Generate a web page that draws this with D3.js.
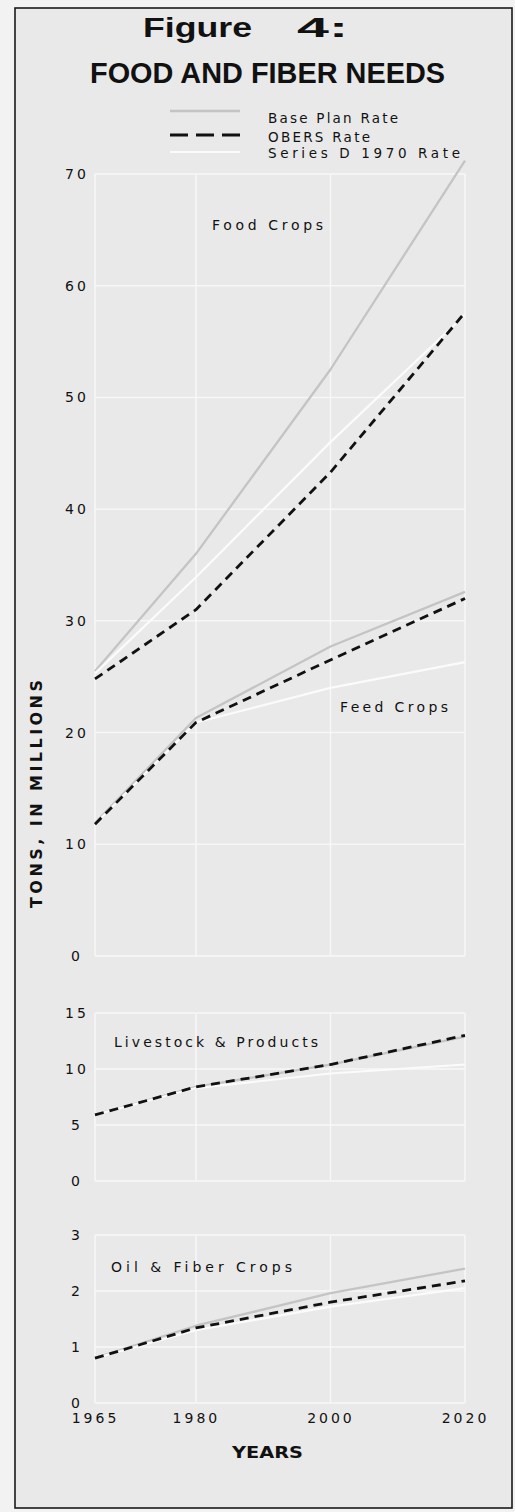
<!DOCTYPE html>
<html>
<head>
<meta charset="utf-8">
<script src="https://cdn.jsdelivr.net/npm/d3@7"></script>
<style>
  html, body { margin: 0; padding: 0; background: #f2f2f2; }
  svg { display: block; }
</style>
</head>
<body>
<svg id="chart" width="515" height="1512"></svg>
<script>
// ---------- data ----------
const years = [1965, 1980, 2000, 2020];
const xTickLabels = ["1965", "1980", "2000", "2020"];

const seriesNames = ["Base Plan Rate", "OBERS Rate", "Series D 1970 Rate"];

const foodBase    = [25.5, 36.0, 52.5, 71.2];
const foodObers   = [24.8, 31.0, 43.3, 57.6];
const foodSeriesD = [25.3, 33.9, 46.0, 57.4];

const feedBase    = [11.9, 21.3, 27.7, 32.6];
const feedObers   = [11.8, 20.9, 26.5, 32.0];
const feedSeriesD = [11.8, 20.9, 24.0, 26.3];

const livestockBase    = [5.9, 8.4, 10.4, 12.9];
const livestockObers   = [5.9, 8.4, 10.4, 13.0];
const livestockSeriesD = [5.9, 8.3, 9.6, 10.4];

const oilBase    = [0.8, 1.38, 1.96, 2.4];
const oilObers   = [0.8, 1.34, 1.80, 2.18];
const oilSeriesD = [0.8, 1.30, 1.72, 2.05];

const panel1Ticks = [0, 10, 20, 30, 40, 50, 60, 70];
const panel2Ticks = [0, 5, 10, 15];
const panel3Ticks = [0, 1, 2, 3];

// ---------- layout ----------
const svg = d3.select("#chart");
const BG = "#e9e9e9", GRID = "#f7f7f7";
const labelFont = "'DejaVu Sans', 'Liberation Sans', sans-serif";
const titleFont = "'Liberation Sans', Arial, sans-serif";

// series styles keyed by series name
const styleOf = {
  "Base Plan Rate":     { stroke: "#c4c4c4", width: 2.3, dash: null, legendDash: null },
  "OBERS Rate":         { stroke: "#111111", width: 2.8, dash: "9,6", legendDash: "18,8" },
  "Series D 1970 Rate": { stroke: "#fbfbfb", width: 2.2, dash: null, legendDash: null }
};
// drawing order: base, series D, OBERS on top
const drawOrder = ["Base Plan Rate", "Series D 1970 Rate", "OBERS Rate"];

// frame
svg.append("rect").attr("x", 15).attr("y", 8).attr("width", 497).attr("height", 1500)
  .attr("fill", BG).attr("stroke", "#1a1a1a").attr("stroke-width", 1.6);

const x = d3.scaleLinear().domain([1965, 2020]).range([95, 465]);

const panels = [
  { domain: [0, 70], range: [956, 174], ticks: panel1Ticks,
    lines: [
      { "Base Plan Rate": foodBase, "OBERS Rate": foodObers, "Series D 1970 Rate": foodSeriesD },
      { "Base Plan Rate": feedBase, "OBERS Rate": feedObers, "Series D 1970 Rate": feedSeriesD }
    ] },
  { domain: [0, 15], range: [1181, 1013], ticks: panel2Ticks,
    lines: [
      { "Base Plan Rate": livestockBase, "OBERS Rate": livestockObers, "Series D 1970 Rate": livestockSeriesD }
    ] },
  { domain: [0, 3], range: [1403, 1235], ticks: panel3Ticks,
    lines: [
      { "Base Plan Rate": oilBase, "OBERS Rate": oilObers, "Series D 1970 Rate": oilSeriesD }
    ] }
];

panels.forEach(p => {
  const y = d3.scaleLinear().domain(p.domain).range(p.range);
  const g = svg.append("g");
  // horizontal grid
  g.selectAll(".hg").data(p.ticks).join("line")
    .attr("x1", x(1965)).attr("x2", x(2020))
    .attr("y1", d => y(d)).attr("y2", d => y(d))
    .attr("stroke", GRID).attr("stroke-width", 1.5);
  // vertical grid
  g.selectAll(".vg").data(years).join("line")
    .attr("x1", d => x(d)).attr("x2", d => x(d))
    .attr("y1", y(p.domain[0])).attr("y2", y(p.domain[1]))
    .attr("stroke", GRID).attr("stroke-width", 1.5);
  // y axis labels
  const ax = svg.append("g").attr("transform", `translate(${x(1965)},0)`)
    .call(d3.axisLeft(y).tickValues(p.ticks).tickSize(0).tickFormat(d3.format("d")));
  ax.select(".domain").remove();
  ax.selectAll("text")
    .attr("x", -18).attr("text-anchor", "middle")
    .attr("font-family", labelFont).attr("font-size", 14)
    .attr("letter-spacing", 3).attr("fill", "#111");

  const line = d3.line().x((d, i) => x(years[i])).y(d => y(d));
  p.lines.forEach(group => {
    drawOrder.forEach(name => {
      const s = styleOf[name];
      svg.append("path").datum(group[name]).attr("d", line)
        .attr("fill", "none").attr("stroke", s.stroke)
        .attr("stroke-width", s.width)
        .attr("stroke-dasharray", s.dash)
        .attr("stroke-linejoin", "round");
    });
  });
});

// x axis
const yBottom = 1403;
const xa = svg.append("g").attr("transform", `translate(0,${yBottom})`)
  .call(d3.axisBottom(x).tickValues(years).tickSize(0).tickPadding(10)
    .tickFormat((d, i) => xTickLabels[i]));
xa.select(".domain").remove();
xa.selectAll("text").attr("font-family", labelFont).attr("font-size", 14)
  .attr("letter-spacing", 3).attr("fill", "#111");

// helper for text fitted to width
function txt(str, xx, yy, size, width, opts = {}) {
  const t = svg.append("text").attr("x", xx).attr("y", yy)
    .attr("font-family", opts.family || labelFont)
    .attr("font-size", size)
    .attr("font-weight", opts.weight || "normal")
    .attr("fill", "#111")
    .text(str);
  if (width) t.attr("textLength", width).attr("lengthAdjust", opts.adjust || "spacing");
  if (opts.anchor) t.attr("text-anchor", opts.anchor);
  if (opts.transform) t.attr("transform", opts.transform);
  return t;
}

// title
txt("Figure", 143, 37, 27, 109, { family: titleFont, weight: "bold", adjust: "spacingAndGlyphs" });
txt("4:", 297, 37, 27, 51, { family: titleFont, weight: "bold", adjust: "spacingAndGlyphs" });
txt("FOOD AND FIBER NEEDS", 90, 83, 29, 355, { family: titleFont, weight: "bold", adjust: "spacingAndGlyphs" });

// legend
const legY = [111, 135, 152];
const legTextY = [123, 142, 158];
const legW = [130, 102, 192];
seriesNames.forEach((name, i) => {
  const s = styleOf[name];
  svg.append("line").attr("x1", 170).attr("x2", 240).attr("y1", legY[i]).attr("y2", legY[i])
    .attr("stroke", s.stroke).attr("stroke-width", s.width).attr("stroke-dasharray", s.legendDash);
  txt(name, 268, legTextY[i], 13.5, legW[i]);
});

// panel labels
txt("Food Crops", 212, 230, 14, 111);
txt("Feed Crops", 340, 712, 14, 108);
txt("Livestock & Products", 114, 1047, 14, 204);
txt("Oil & Fiber Crops", 111, 1272, 14, 181);

// axis titles
txt("YEARS", 232, 1458, 15, 71, { weight: "bold", adjust: "spacingAndGlyphs" });
txt("TONS, IN MILLIONS", 0, 0, 16, 228, { weight: "bold", anchor: "middle",
  transform: "translate(42,794) rotate(-90)" });
</script>
</body>
</html>
